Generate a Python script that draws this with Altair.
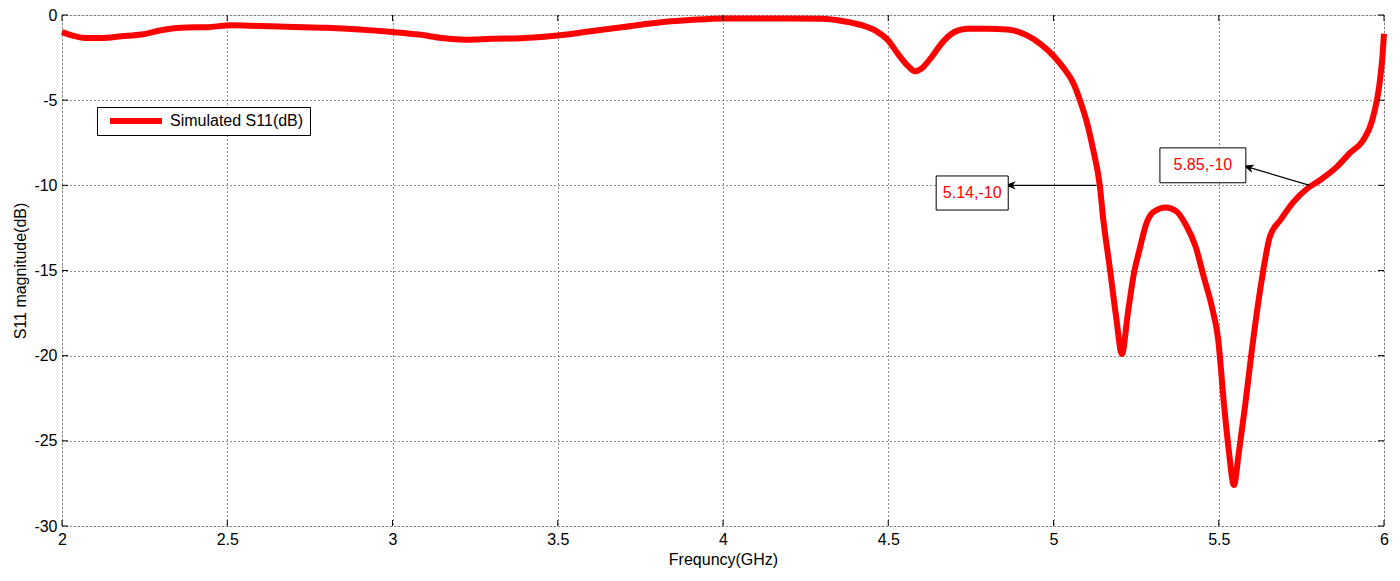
import altair as alt
import pandas as pd

# ---- data ----
freq = [2.00, 2.03, 2.07, 2.12, 2.18, 2.24, 2.30, 2.36, 2.45, 2.51, 2.60, 2.70, 2.80, 2.90,
        3.00, 3.08, 3.15, 3.22, 3.30, 3.40, 3.50, 3.60, 3.70, 3.80, 3.90, 4.00, 4.10, 4.20,
        4.30, 4.36, 4.42, 4.46, 4.50, 4.53, 4.56, 4.58, 4.60, 4.63, 4.66, 4.70, 4.74, 4.80,
        4.86, 4.92, 4.96, 5.00, 5.03, 5.06, 5.08, 5.105, 5.12, 5.14, 5.15, 5.17, 5.19, 5.207,
        5.225, 5.245, 5.26, 5.28, 5.30, 5.34, 5.37, 5.40, 5.43, 5.455, 5.48, 5.498, 5.516,
        5.53, 5.546, 5.56, 5.58, 5.60, 5.628, 5.655, 5.688, 5.725, 5.767, 5.806, 5.858,
        5.897, 5.937, 5.964, 5.988, 5.995, 6.00]
s11 = [-1.0, -1.2, -1.35, -1.35, -1.25, -1.15, -0.9, -0.75, -0.7, -0.6, -0.65, -0.7, -0.75, -0.85,
       -1.0, -1.15, -1.35, -1.45, -1.4, -1.35, -1.2, -0.95, -0.7, -0.45, -0.3, -0.2, -0.2, -0.2,
       -0.22, -0.35, -0.6, -0.9, -1.5, -2.3, -3.0, -3.3, -3.15, -2.5, -1.7, -1.0, -0.8, -0.8,
       -0.85, -1.2, -1.7, -2.4, -3.1, -4.0, -5.0, -6.6, -7.9, -10.0, -11.9, -14.8, -17.8, -19.9,
       -17.5, -15.0, -13.8, -12.3, -11.6, -11.3, -11.5, -12.3, -13.6, -15.4, -17.2, -19.0, -22.9,
       -25.5, -27.6, -25.8, -22.9, -19.7, -15.8, -13.0, -12.0, -11.0, -10.2, -9.7, -8.9,
       -8.1, -7.35, -6.2, -3.8, -2.5, -1.1]
series_name = "Simulated S11(dB)"

x_ticks = [2, 2.5, 3, 3.5, 4, 4.5, 5, 5.5, 6]
y_ticks = [0, -5, -10, -15, -20, -25, -30]

ann_label = ["5.14,-10", "5.85,-10"]
ann_box_x = [4.645, 5.322]
ann_box_x2 = [4.863, 5.582]
ann_box_y = [-9.45, -7.8]
ann_box_y2 = [-11.45, -9.85]
arrow_from_x = [5.13, 5.775]
arrow_from_y = [-10.0, -10.0]
arrow_to_x = [4.872, 5.592]
arrow_to_y = [-10.0, -8.95]
arrow_angle = [270, 287]

W, H = 1322, 511
FONT = "Liberation Sans"
FS = 16

curve = pd.DataFrame({"f": freq, "s": s11, "series": series_name})
ann = pd.DataFrame({"label": ann_label, "bx": ann_box_x, "bx2": ann_box_x2,
                    "by": ann_box_y, "by2": ann_box_y2,
                    "tx": [(a + b) / 2 for a, b in zip(ann_box_x, ann_box_x2)],
                    "ty": [(a + b) / 2 for a, b in zip(ann_box_y, ann_box_y2)],
                    "ax": arrow_from_x, "ay": arrow_from_y,
                    "ax2": arrow_to_x, "ay2": arrow_to_y, "ang": arrow_angle})
xt = pd.DataFrame({"t": x_ticks})
yt = pd.DataFrame({"t": y_ticks})

xs = alt.Scale(domain=[2, 6], nice=False, zero=False)
ys = alt.Scale(domain=[-30, 0], nice=False, zero=False)

xaxis = alt.Axis(values=x_ticks, title="Frequncy(GHz)", ticks=False, domain=False,
                 labelExpr="toString(datum.value)", labelFlush=False,
                 grid=True, gridDash=[1, 3], gridColor="#222", gridWidth=1,
                 labelFont=FONT, labelFontSize=FS, labelColor="#000", labelPadding=5,
                 titleFont=FONT, titleFontSize=FS, titleFontWeight="normal",
                 titleColor="#000", titlePadding=4)
yaxis = alt.Axis(values=y_ticks, title="S11 magnitude(dB)", ticks=False, domain=False,
                 labelExpr="toString(datum.value)", labelFlush=False,
                 grid=True, gridDash=[1, 3], gridColor="#222", gridWidth=1,
                 labelFont=FONT, labelFontSize=FS, labelColor="#000", labelPadding=5,
                 titleFont=FONT, titleFontSize=FS, titleFontWeight="normal",
                 titleColor="#000", titlePadding=5)

line = alt.Chart(curve).mark_line(strokeWidth=6, strokeJoin="round", strokeCap="butt",
                                  interpolate="monotone").encode(
    x=alt.X("f:Q", scale=xs, axis=xaxis),
    y=alt.Y("s:Q", scale=ys, axis=yaxis),
    color=alt.Color("series:N", scale=alt.Scale(range=["#ff0000"]),
                    legend=alt.Legend(title=None, orient="none", legendX=35, legendY=92,
                                      symbolType="stroke", symbolStrokeWidth=6,
                                      symbolSize=2704, clipHeight=16,
                                      labelFont=FONT, labelFontSize=FS,
                                      labelColor="#000", strokeColor="#000",
                                      fillColor="#fff", padding=6, cornerRadius=0,
                                      symbolOffset=4, labelOffset=5)),
)

# inner ticks (MATLAB style)
tick_len = 6
xt_bottom = alt.Chart(xt).mark_rule(color="#000", strokeWidth=1).encode(
    x=alt.X("t:Q", scale=xs), y=alt.value(H - tick_len), y2=alt.value(H))
xt_top = alt.Chart(xt).mark_rule(color="#000", strokeWidth=1).encode(
    x=alt.X("t:Q", scale=xs), y=alt.value(0), y2=alt.value(tick_len))
yt_left = alt.Chart(yt).mark_rule(color="#000", strokeWidth=1).encode(
    y=alt.Y("t:Q", scale=ys), x=alt.value(0), x2=alt.value(tick_len))
yt_right = alt.Chart(yt).mark_rule(color="#000", strokeWidth=1).encode(
    y=alt.Y("t:Q", scale=ys), x=alt.value(W - tick_len), x2=alt.value(W))

boxes = alt.Chart(ann).mark_rect(fill="#fff", stroke="#000", strokeWidth=1).encode(
    x=alt.X("bx:Q", scale=xs), x2="bx2:Q", y=alt.Y("by:Q", scale=ys), y2="by2:Q")
texts = alt.Chart(ann).mark_text(color="#ff0000", font=FONT, fontSize=FS,
                                 align="center", baseline="middle").encode(
    x=alt.X("tx:Q", scale=xs), y=alt.Y("ty:Q", scale=ys), text="label:N")
arrows = alt.Chart(ann).mark_rule(color="#000", strokeWidth=1.2).encode(
    x=alt.X("ax:Q", scale=xs), y=alt.Y("ay:Q", scale=ys), x2="ax2:Q", y2="ay2:Q")
heads = alt.Chart(ann).mark_point(
    shape="M0,-1 L-0.65,0.7 L0,0.25 L0.65,0.7 Z", filled=True, color="#000",
    size=160, opacity=1).encode(
    x=alt.X("ax2:Q", scale=xs), y=alt.Y("ay2:Q", scale=ys), angle=alt.Angle("ang:Q", scale=None))

chart = alt.layer(
    line, xt_bottom, xt_top, yt_left, yt_right, arrows, heads, boxes, texts
).properties(
    width=W, height=H,
    autosize=alt.AutoSizeParams(type="none"),
    padding={"left": 54, "top": 7, "right": 8, "bottom": 48},
).configure_view(stroke="#000", strokeWidth=1).configure(background="#fff")

chart.save("out.html", embed_options={"renderer": "svg", "actions": False})
